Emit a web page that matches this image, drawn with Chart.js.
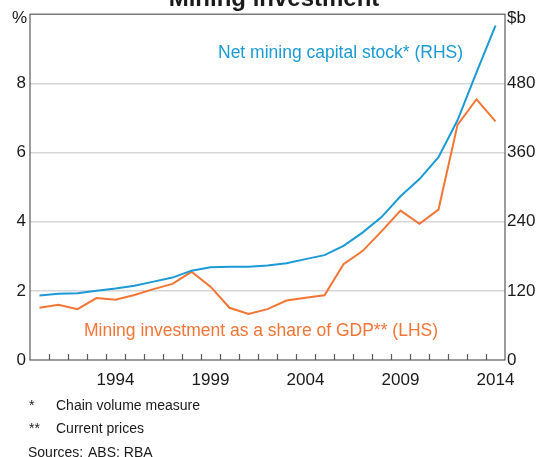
<!DOCTYPE html>
<html>
<head>
<meta charset="utf-8">
<script src="https://cdn.jsdelivr.net/npm/chart.js@4"></script>
<style>
  body { margin: 0; background: #fff; font-family: "Liberation Sans", Arial, sans-serif; }
  #wrap { position: relative; width: 548px; height: 457px; overflow: hidden; }
  .t { position: absolute; white-space: nowrap; color: #1a1a1a; }
</style>
</head>
<body>
<div id="wrap">
  <canvas id="chart" width="548" height="457"></canvas>
  <div class="t" style="left:0;width:548px;text-align:center;top:-14px;font-size:24px;line-height:24px;font-weight:bold;">Mining investment</div>
  <div class="t" style="left:12px;top:9px;font-size:17px;line-height:18px;">%</div>
  <div class="t" style="left:507px;top:9px;font-size:17px;line-height:18px;">$b</div>
  <div class="t" style="left:218px;top:43px;font-size:17.5px;line-height:18px;color:#1b9ad6;">Net mining capital stock* (RHS)</div>
  <div class="t" style="left:84px;top:321px;font-size:17.5px;line-height:18px;color:#f37535;">Mining investment as a share of GDP** (LHS)</div>
  <div class="t" style="left:29px;top:398px;font-size:14px;line-height:15px;">*</div>
  <div class="t" style="left:56px;top:398px;font-size:14px;line-height:15px;">Chain volume measure</div>
  <div class="t" style="left:29px;top:421px;font-size:14px;line-height:15px;">**</div>
  <div class="t" style="left:56px;top:421px;font-size:14px;line-height:15px;">Current prices</div>
  <div class="t" style="left:28px;top:445px;font-size:14px;line-height:15px;">Sources:</div>
  <div class="t" style="left:88px;top:445px;font-size:14px;line-height:15px;">ABS; RBA</div>
</div>
<script>
// annual observations, 1990 to 2014
const years = ['1990', '1991', '1992', '1993', '1994', '1995', '1996', '1997', '1998', '1999',
    '2000', '2001', '2002', '2003', '2004', '2005', '2006', '2007', '2008', '2009',
    '2010', '2011', '2012', '2013', '2014'];
const labelledYears = ['1994', '1999', '2004', '2009', '2014'];

// mining investment, per cent of GDP (left axis)
const investmentShare = [1.51, 1.60, 1.47, 1.79, 1.74, 1.88, 2.05, 2.20, 2.55, 2.12,
    1.51, 1.33, 1.47, 1.72, 1.80, 1.87, 2.77, 3.15, 3.72, 4.32,
    3.94, 4.35, 6.80, 7.54, 6.90];

// net mining capital stock, $b (right axis)
const capitalStock = [112, 115, 116, 120, 124, 129, 136, 143, 155, 161,
    162, 162, 164, 168, 175, 182, 198, 221, 248, 284,
    314, 352, 416, 499, 580];

const tickFont = { family: '"Liberation Sans", Arial, sans-serif', size: 17 };

// box round the plot and small year ticks pointing up from the bottom edge
const framePlugin = {
    id: 'frame',
    afterDraw(chart) {
        const ctx = chart.ctx;
        const area = chart.chartArea;
        const x = chart.scales.x;
        ctx.save();
        ctx.strokeStyle = '#5a5a5a';
        ctx.lineWidth = 1.2;
        ctx.strokeRect(area.left, area.top, area.right - area.left, area.bottom - area.top);
        ctx.beginPath();
        for (let i = 1; i < years.length; i++) {
            const px = Math.round((x.getPixelForValue(i - 1) + x.getPixelForValue(i)) / 2) + 0.5;
            ctx.moveTo(px, area.bottom);
            ctx.lineTo(px, area.bottom - 6);
        }
        ctx.stroke();
        ctx.restore();
    }
};

const data = {
    labels: years,
    datasets: [
        {
            label: 'Net mining capital stock* (RHS)',
            data: capitalStock,
            borderColor: '#1b9ad6',
            borderWidth: 2,
            pointRadius: 0,
            tension: 0,
            yAxisID: 'y1'
        },
        {
            label: 'Mining investment as a share of GDP** (LHS)',
            data: investmentShare,
            borderColor: '#f37535',
            borderWidth: 2,
            pointRadius: 0,
            tension: 0,
            yAxisID: 'y'
        }
    ]
};

const config = {
    type: 'line',
    data: data,
    options: {
        responsive: false,
        animation: false,
        devicePixelRatio: 1,
        layout: { padding: { top: 11, bottom: 67, left: 0, right: 0 } },
        plugins: {
            legend: { display: false },
            tooltip: { enabled: false }
        },
        scales: {
            x: {
                offset: true,
                border: { display: false },
                grid: { display: false, drawTicks: false },
                ticks: {
                    autoSkip: false,
                    maxRotation: 0,
                    padding: 10,
                    color: '#1a1a1a',
                    font: tickFont,
                    callback: function (value) {
                        const yr = years[value];
                        return labelledYears.includes(yr) ? yr : '';
                    }
                },
                afterFit: function (scale) { scale.height = 30; }
            },
            y: {
                position: 'left',
                min: 0,
                max: 10,
                border: { display: false },
                grid: {
                    drawTicks: false,
                    lineWidth: 1.5,
                    color: ctx => (ctx.tick.value > 0 && ctx.tick.value < 10) ? '#d6d6d6' : 'rgba(0,0,0,0)'
                },
                ticks: {
                    stepSize: 2,
                    padding: 4,
                    color: '#1a1a1a',
                    font: tickFont,
                    callback: v => (v === 10 ? '' : v)
                },
                afterFit: function (scale) { scale.width = 30; }
            },
            y1: {
                position: 'right',
                min: 0,
                max: 600,
                border: { display: false },
                grid: { display: false, drawTicks: false },
                ticks: {
                    stepSize: 120,
                    padding: 2,
                    color: '#1a1a1a',
                    font: tickFont,
                    callback: v => (v === 600 ? '' : v)
                },
                afterFit: function (scale) { scale.width = 43; }
            }
        }
    },
    plugins: [framePlugin]
};

const canvas = document.getElementById('chart');
const mainChart = new Chart(canvas, config);
</script>
</body>
</html>
